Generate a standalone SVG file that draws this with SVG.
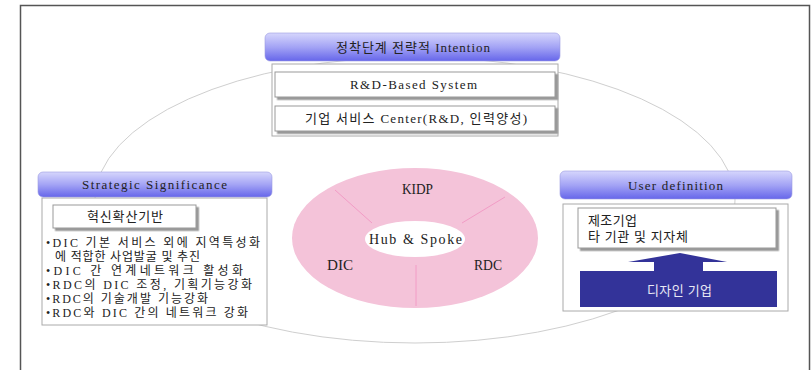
<svg xmlns="http://www.w3.org/2000/svg" width="812" height="370" viewBox="0 0 812 370">
<defs>
<linearGradient id="hdr" x1="0" y1="0" x2="0" y2="1">
<stop offset="0" stop-color="#d6d6fc"/>
<stop offset="0.5" stop-color="#a4a4f5"/>
<stop offset="1" stop-color="#6666ea"/>
</linearGradient>
<filter id="sh" x="-5%" y="-10%" width="115%" height="140%">
<feDropShadow dx="2.5" dy="2.5" stdDeviation="0.6" flood-color="#808080" flood-opacity="0.8"/>
</filter>
</defs>
<style>
text{font-family:"Liberation Serif","Noto Sans CJK KR",serif;fill:#222;}
.hdr{fill:url(#hdr);stroke:#9a9ae0;stroke-width:0.6;}
.body{fill:#fff;stroke:#aaa;stroke-width:1;}
.inner{fill:#fff;stroke:#999;stroke-width:1;filter:url(#sh);}
.t13{font-size:13px;}
.t12{font-size:12px;}
.c14{font-size:14px;}
.div{stroke:#f29cc6;stroke-width:1;}
</style>
<rect width="812" height="370" fill="#fff"/>
<g id="frame" fill="none" stroke="#555" stroke-width="1.5">
<path d="M20.5 370 V5.5 H809.5 V370"/>
</g>
<g id="connectors">
<ellipse cx="415" cy="200" rx="320" ry="143" fill="none" stroke="#cfcfcf" stroke-width="1"/>
</g>
<g id="hub">
<ellipse cx="415" cy="238" rx="123" ry="70" fill="#f4c3d9"/>
<ellipse cx="415" cy="239" rx="50" ry="18" fill="#fff"/>
<line class="div" x1="335" y1="190" x2="372" y2="223"/>
<line class="div" x1="505" y1="197" x2="462" y2="223"/>
<line class="div" x1="416" y1="265" x2="416" y2="306"/>
<text class="c14" x="402" y="194" textLength="31" lengthAdjust="spacingAndGlyphs">KIDP</text>
<text class="c14" x="369" y="244" textLength="93" lengthAdjust="spacing">Hub &amp; Spoke</text>
<text class="c14" x="327" y="270" textLength="26" lengthAdjust="spacingAndGlyphs">DIC</text>
<text class="c14" x="474" y="270" textLength="28" lengthAdjust="spacingAndGlyphs">RDC</text>
</g>
<g id="intention">
<rect class="body" x="272" y="64" width="286" height="72"/>
<rect class="hdr" x="265" y="33" width="295" height="28" rx="5"/>
<text class="t13" x="336" y="52" textLength="154" lengthAdjust="spacing">정착단계 전략적 Intention</text>
<rect class="inner" x="275" y="72" width="280" height="25"/>
<text class="t13" x="350" y="89" textLength="127" lengthAdjust="spacing">R&amp;D-Based System</text>
<rect class="inner" x="275" y="106" width="280" height="25"/>
<text class="t13" x="305" y="123" textLength="222" lengthAdjust="spacing">기업 서비스 Center(R&amp;D, 인력양성)</text>
</g>
<g id="strategic">
<rect class="body" x="42" y="198" width="225" height="127"/>
<rect class="hdr" x="38" y="172" width="234" height="25" rx="5"/>
<text class="t13" x="82" y="189" textLength="145" lengthAdjust="spacing">Strategic Significance</text>
<rect class="inner" x="53" y="205" width="143" height="23"/>
<text class="t13" x="87" y="221" textLength="76" lengthAdjust="spacing">혁신확산기반</text>
<g class="t12">
<text x="46" y="247" textLength="214" lengthAdjust="spacing">•DIC 기본 서비스 외에 지역특성화</text>
<text x="55" y="261" textLength="145" lengthAdjust="spacing">에 적합한 사업발굴 및 추진</text>
<text x="46" y="275" textLength="197" lengthAdjust="spacing">•DIC 간 연계네트워크 활성화</text>
<text x="46" y="289" textLength="206" lengthAdjust="spacing">•RDC의 DIC 조정, 기획기능강화</text>
<text x="46" y="303" textLength="162" lengthAdjust="spacing">•RDC의 기술개발 기능강화</text>
<text x="46" y="317" textLength="202" lengthAdjust="spacing">•RDC와 DIC 간의 네트워크 강화</text>
</g>
</g>
<g id="user">
<rect class="body" x="563" y="204" width="225" height="107"/>
<rect class="hdr" x="560" y="171" width="232" height="28" rx="5"/>
<text class="t13" x="628" y="190" textLength="95" lengthAdjust="spacing">User definition</text>
<rect class="inner" x="578" y="208" width="198" height="40"/>
<text class="t13" x="588" y="225" textLength="49" lengthAdjust="spacing">제조기업</text>
<text class="t13" x="588" y="241" textLength="100" lengthAdjust="spacing">타 기관 및 지자체</text>
<polygon points="680,253 727,262 703,262 703,272 654,272 654,262 628,262" fill="#333399"/>
<rect x="580" y="271" width="197" height="36" fill="#333399"/>
<text class="t13" x="647" y="295" textLength="65" lengthAdjust="spacing" style="fill:#e8e8f4">디자인 기업</text>
</g>
</svg>
